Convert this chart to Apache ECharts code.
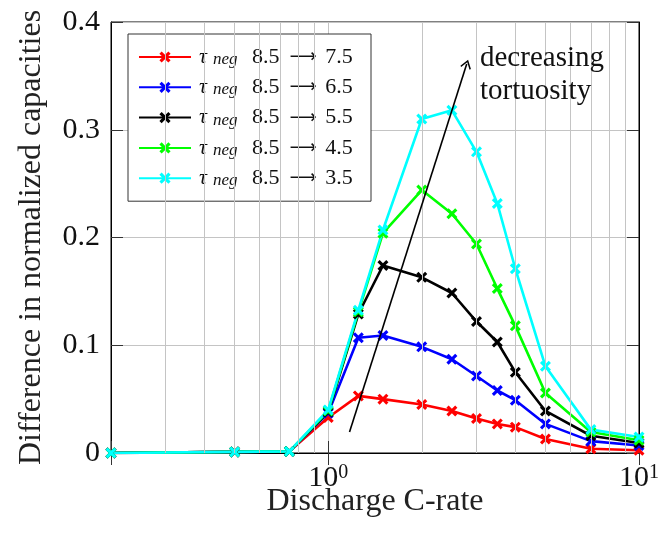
<!DOCTYPE html>
<html>
<head>
<meta charset="utf-8">
<script src="https://cdn.jsdelivr.net/npm/echarts@6/dist/echarts.min.js"></script>
<style>
  html, body { margin: 0; padding: 0; background: #fff; }
  #chart { width: 662px; height: 537px; }
</style>
</head>
<body>
<div id="chart"></div>
<script>
// Discharge C-rates (log axis)
const cRates = [0.2, 0.5, 0.75, 1, 1.25, 1.5, 2, 2.5, 3, 3.5, 4, 5, 7, 10];

// Difference in normalized capacities for each tortuosity change
const tauTo75 = [0, 0.001, 0.0015, 0.033, 0.053, 0.050, 0.045, 0.039, 0.032, 0.027, 0.024, 0.013, 0.004, 0.0025];
const tauTo65 = [0, 0.001, 0.0015, 0.037, 0.107, 0.109, 0.0985, 0.087, 0.0715, 0.058, 0.049, 0.027, 0.011, 0.007];
const tauTo55 = [0, 0.001, 0.0015, 0.038, 0.129, 0.174, 0.163, 0.1485, 0.122, 0.103, 0.075, 0.039, 0.016, 0.0093];
const tauTo45 = [0, 0.001, 0.0015, 0.039, 0.131, 0.204, 0.244, 0.222, 0.194, 0.1526, 0.118, 0.0557, 0.0195, 0.0118];
const tauTo35 = [0, 0.001, 0.0015, 0.040, 0.1325, 0.207, 0.310, 0.318, 0.2795, 0.2316, 0.171, 0.0805, 0.0217, 0.0149];

const tauStart = '8.5';
const tauEnds = ['7.5', '6.5', '5.5', '4.5', '3.5'];
const seriesValues = [tauTo75, tauTo65, tauTo55, tauTo45, tauTo35];
const seriesColors = ['#ff0000', '#0000ff', '#000000', '#00ff00', '#00ffff'];

// Minor grid positions on the log axis
const minorGrid = [0.3, 0.4, 0.5, 0.6, 0.7, 0.8, 0.9, 2, 3, 4, 5, 6, 7, 8, 9];

// Trend arrow (C-rate, capacity difference)
const arrowStart = [1.171, 0.0195];
const arrowEnd = [2.79, 0.361];

const yTicks = { min: 0, max: 0.4, interval: 0.1 };

const FONT = '"Liberation Serif", "Times New Roman", serif';
const crossMark = 'path://M2,0 L5,3 L8,0 L10,2 L7,5 L10,8 L8,10 L5,7 L2,10 L0,8 L3,5 L0,2 Z';
const openHead = 'path://M6,0 L12,7.6 L10.8,8.6 L6,2.6 L1.2,8.6 L0,7.6 Z';

const names = tauEnds.map(e => 'τneg ' + tauStart + ' → ' + e);

const dataSeries = seriesValues.map((vals, i) => ({
  name: names[i],
  type: 'line',
  data: cRates.map((c, k) => [c, vals[k]]),
  symbol: crossMark,
  symbolSize: 11,
  showAllSymbol: true,
  z: 3,
  lineStyle: { color: seriesColors[i], width: 2.6 },
  itemStyle: { color: seriesColors[i] },
  emphasis: { disabled: true }
}));

const chart = echarts.init(document.getElementById('chart'), null, { renderer: 'canvas' });

chart.setOption({
  animation: false,
  backgroundColor: '#ffffff',
  grid: {
    left: 111, right: 17, top: 22, bottom: 84,
    show: true, borderColor: '#000', borderWidth: 1, backgroundColor: 'transparent'
  },
  xAxis: [{
    type: 'log',
    logBase: 10,
    min: 0.2,
    max: 10,
    name: 'Discharge C-rate',
    nameLocation: 'middle',
    nameGap: 33,
    nameMoveOverlap: false,
    nameTextStyle: { fontFamily: FONT, fontSize: 32, color: '#222' },
    axisLine: { show: true, lineStyle: { color: '#000', width: 1 } },
    axisTick: { show: true, inside: true, length: 12, lineStyle: { color: '#333' } },
    splitLine: { show: true, lineStyle: { color: '#c4c4c4', width: 1 } },
    axisLabel: {
      margin: 10,
      formatter: v => {
        if (Math.abs(v - 1) < 1e-9) return '{b|10}{s|0}';
        if (Math.abs(v - 10) < 1e-9) return '{b|10}{s|1}';
        return '';
      },
      rich: {
        b: { fontFamily: FONT, fontSize: 30, lineHeight: 30, color: '#111' },
        s: { fontFamily: FONT, fontSize: 20, lineHeight: 16, verticalAlign: 'top', color: '#111' }
      }
    }
  }, {
    type: 'log',
    logBase: 10,
    min: 0.2,
    max: 10,
    position: 'top',
    axisLine: { show: true, lineStyle: { color: '#000', width: 1 } },
    axisTick: { show: true, inside: true, length: 12, lineStyle: { color: '#333' } },
    axisLabel: { show: false },
    splitLine: { show: false }
  }],
  yAxis: [{
    type: 'value',
    min: yTicks.min,
    max: yTicks.max,
    interval: yTicks.interval,
    name: 'Difference in normalized capacities',
    nameLocation: 'middle',
    nameGap: 63,
    nameMoveOverlap: false,
    nameTextStyle: { fontFamily: FONT, fontSize: 32, color: '#222' },
    axisLine: { show: true, lineStyle: { color: '#000', width: 1 } },
    axisTick: { show: true, inside: true, length: 12, lineStyle: { color: '#333' } },
    splitLine: { show: true, lineStyle: { color: '#c4c4c4', width: 1 } },
    axisLabel: {
      margin: 11,
      fontFamily: FONT, fontSize: 30, color: '#111',
      formatter: v => (v === 0 ? '0' : v.toFixed(1))
    }
  }, {
    type: 'value',
    min: yTicks.min,
    max: yTicks.max,
    interval: yTicks.interval,
    position: 'right',
    axisLine: { show: true, lineStyle: { color: '#000', width: 1 } },
    axisTick: { show: true, inside: true, length: 12, lineStyle: { color: '#333' } },
    axisLabel: { show: false },
    splitLine: { show: false }
  }],
  legend: {
    data: names,
    orient: 'vertical',
    left: 128,
    top: 34,
    padding: [12, 17, 12, 10],
    itemWidth: 52,
    itemHeight: 14,
    itemGap: 8.3,
    backgroundColor: '#fff',
    borderColor: '#333',
    borderWidth: 1,
    borderRadius: 0,
    formatter: name => {
      const parts = name.split(' ');
      return '{t|τ}{s|neg}{n|' + parts[1] + '}{a|⟶}{n|' + parts[3] + '}';
    },
    textStyle: {
      fontFamily: FONT,
      fontSize: 22,
      color: '#111',
      rich: {
        t: { fontFamily: FONT, fontSize: 22, fontStyle: 'italic', lineHeight: 22, width: 14, padding: [0, 0, 0, 3], color: '#111' },
        s: { fontFamily: FONT, fontSize: 17, fontStyle: 'italic', lineHeight: 20, width: 39, verticalAlign: 'bottom', color: '#111' },
        n: { fontFamily: FONT, fontSize: 22, lineHeight: 22, width: 30, color: '#111' },
        a: { fontFamily: 'DejaVu Sans', fontSize: 19, lineHeight: 22, width: 42, align: 'center', color: '#111' }
      }
    }
  },
  graphic: [{
    type: 'text',
    left: 480,
    top: 42,
    z: 100,
    style: {
      text: 'decreasing\ntortuosity',
      font: '29px ' + FONT,
      fill: '#111',
      lineHeight: 33
    }
  }],
  series: [
    {
      // minor vertical grid lines of the log axis
      type: 'line',
      data: [],
      z: 1,
      silent: true,
      markLine: {
        silent: true,
        symbol: 'none',
        animation: false,
        label: { show: false },
        lineStyle: { color: '#c4c4c4', width: 1, type: 'solid' },
        emphasis: { disabled: true },
        data: minorGrid.map(v => ({ xAxis: v }))
      }
    },
    ...dataSeries,
    {
      // trend arrow
      type: 'line',
      data: [],
      z: 5,
      silent: true,
      markLine: {
        silent: true,
        animation: false,
        symbol: ['none', openHead],
        symbolSize: [11, 9],
        label: { show: false },
        lineStyle: { color: '#000', width: 1.6, type: 'solid' },
        emphasis: { disabled: true },
        data: [[{ coord: arrowStart }, { coord: arrowEnd }]]
      }
    }
  ]
});
</script>
</body>
</html>
